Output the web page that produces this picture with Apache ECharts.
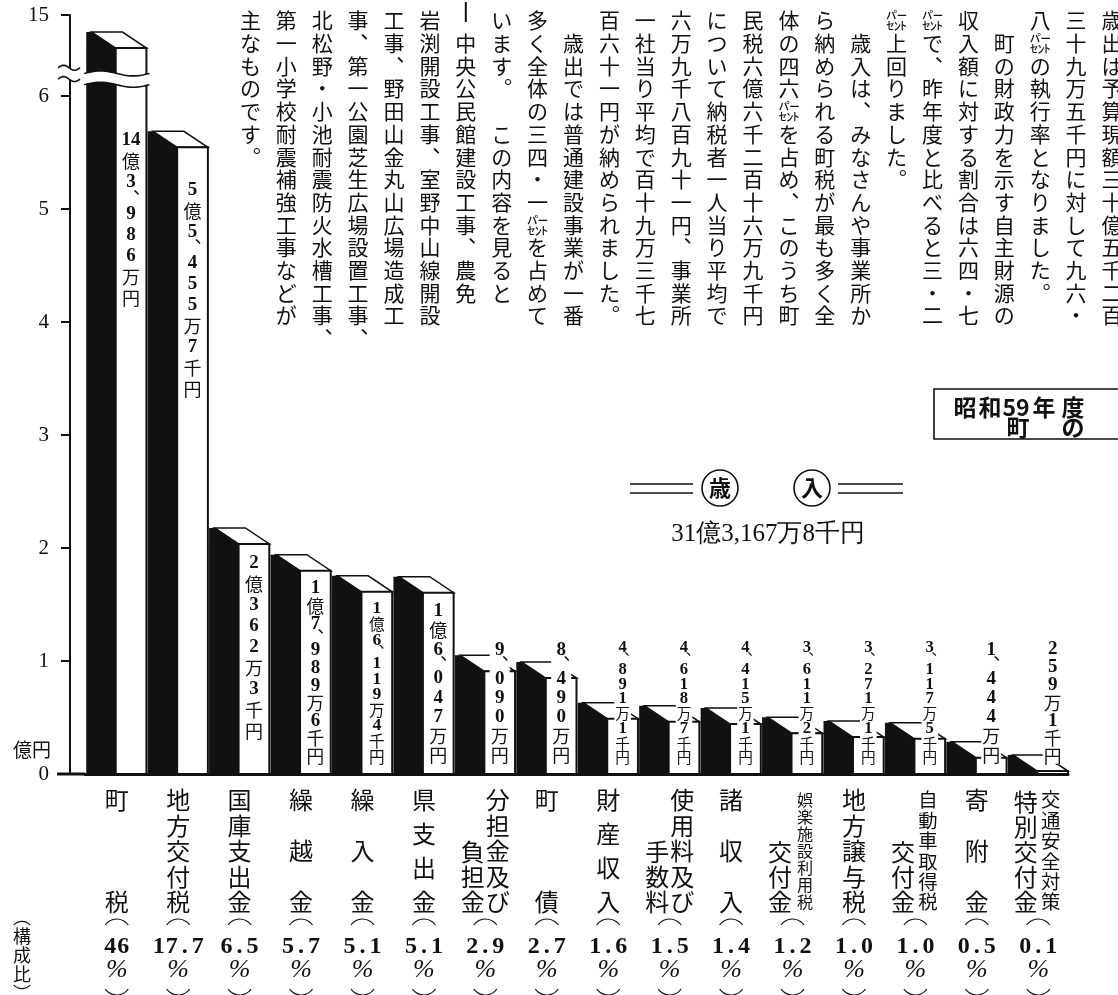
<!DOCTYPE html>
<html>
<head>
<meta charset="utf-8">
<script src="https://cdn.jsdelivr.net/npm/echarts@6.0.0/dist/echarts.min.js"></script>
<style>
html,body{margin:0;padding:0;background:#fff}
#main{width:1118px;height:995px}
</style>
</head>
<body>
<div id="main"></div>
<script>
// 昭和59年度 歳入 (単位: 億円)
var categories = ['町税','地方交付税','国庫支出金','繰越金','繰入金','県支出金','分担金及び負担金','町債','財産収入','使用料及び手数料','諸収入','娯楽施設利用税交付金','地方譲与税','自動車取得税交付金','寄附金','交通安全対策特別交付金'];
var amounts = [14.3986, 5.54557, 2.03623, 1.79896, 1.61194, 1.6047, 0.909, 0.849, 0.48911, 0.46187, 0.44151, 0.36112, 0.32711, 0.31175, 0.1444, 0.02591];
var amountLabels = ['14億3、986万円','5億5、455万7千円','2億362万3千円','1億7、989万6千円','1億6、119万4千円','1億6、047万円','9、090万円','8、490万円','4、891万1千円','4、618万7千円','4、415万1千円','3、611万2千円','3、271万1千円','3、117万5千円','1、444万円','259万1千円'];
var shares = ['46','17.7','6.5','5.7','5.1','5.1','2.9','2.7','1.6','1.5','1.4','1.2','1.0','1.0','0.5','0.1'];
// 縦書きラベルの列 (右の列から)
var labelColumns = [['町税'],['地方交付税'],['国庫支出金'],['繰越金'],['繰入金'],['県支出金'],['分担金及び','負担金'],['町債'],['財産収入'],['使用料及び','手数料'],['諸収入'],['娯楽施設利用税','交付金'],['地方譲与税'],['自動車取得税','交付金'],['寄附金'],['交通安全対策','特別交付金']];
var yTicks = [0, 1, 2, 3, 4, 5, 6, 15];
var totalText = '31億3,167万8千円';

var paragraph = [
  '歳出は予算現額三十億五千二百',
  '三十九万五千円に対して九六・',
  '八㌫の執行率となりました。',
  '　町の財政力を示す自主財源の',
  '収入額に対する割合は六四・七',
  '㌫で、昨年度と比べると三・二',
  '㌫上回りました。',
  '　歳入は、みなさんや事業所か',
  'ら納められる町税が最も多く全',
  '体の四六㌫を占め、このうち町',
  '民税六億六千二百十六万九千円',
  'について納税者一人当り平均で',
  '六万九千八百九十一円、事業所',
  '一社当り平均で百十九万三千七',
  '百六十一円が納められました。',
  '　歳出では普通建設事業が一番',
  '多く全体の三四・一㌫を占めて',
  'います。　この内容を見ると',
  '　中央公民館建設工事、農免',
  '岩渕開設工事、室野中山線開設',
  '工事、野田山金丸山広場造成工',
  '事、第一公園芝生広場設置工事、',
  '北松野・小池耐震防火水槽工事、',
  '第一小学校耐震補強工事などが',
  '主なものです。'
];

var INK = '#111';
var SERIF = '"Liberation Serif","DejaVu Serif",serif';
var JP = '"Noto Sans CJK JP",sans-serif';

// 縦軸の省略 (6 から 15 の間を詰める)
var BREAK_AT = 6.2, AXIS_TOP = 6.717, SQUEEZE = 0.487;
function toAxis(v) { return v <= BREAK_AT ? v : AXIS_TOP - (15 - v) * SQUEEZE; }
var tickValues = yTicks.map(toAxis);

function vert(s) {
  return s.replace(/、/g, '︑').replace(/。/g, '︒');
}

function wave(x1, x2, yc, amp) {
  var pts = [];
  for (var k = 0; k <= 24; k++) {
    var t = k / 24;
    pts.push([x1 + (x2 - x1) * t, yc - amp * Math.sin(Math.PI * 2 * t)]);
  }
  return pts;
}

function breakMark(kids, x1, x2, yA, yB) {
  var up = wave(x1, x2, yA, 2.5), dn = wave(x1, x2, yB, 2.5);
  kids.push({type: 'polygon', shape: {points: up.concat(dn.slice().reverse())}, style: {fill: '#fff'}});
  kids.push({type: 'polyline', shape: {points: up}, style: {stroke: INK, lineWidth: 1.6, fill: null}});
  kids.push({type: 'polyline', shape: {points: dn}, style: {stroke: INK, lineWidth: 1.6, fill: null}});
}

// 等幅のセルに並べる (数字と小数点)
function cells(s, key) {
  return s.split('').map(function (c) { return '{' + key + '|' + c + '}'; }).join('');
}

// 縦書きの丸括弧 (上 ︵ / 下 ︶)
function paren(x, y, up) {
  var r = 14, a = Math.acos(11.5 / r);
  return {
    type: 'arc',
    shape: up ? {cx: x, cy: y + r - 3, r: r, startAngle: Math.PI + a, endAngle: 2 * Math.PI - a}
              : {cx: x, cy: y - r + 3, r: r, startAngle: a, endAngle: Math.PI - a},
    style: {stroke: INK, lineWidth: 1.2, fill: null}
  };
}

function renderBar(params, api) {
  var i = api.value(0), a = api.value(1);
  var base = api.coord([i, 0]), head = api.coord([i, a]);
  var band = api.size([1, 0])[0];
  var cx = base[0], y0 = base[1], ty = head[1];
  var fw = band * 0.5, sw = band * 0.48, dx = band * 0.39, dy = 16;
  var kids = [];

  // 影の側面・上面・正面
  kids.push({type: 'polygon', shape: {points: [[cx - sw, y0], [cx - sw, ty - dy], [cx - dx, ty - dy], [cx, ty], [cx, y0]]}, style: {fill: INK}});
  kids.push({type: 'polygon', shape: {points: [[cx - dx, ty - dy], [cx - dx + fw, ty - dy], [cx + fw, ty], [cx, ty]]}, style: {fill: '#fff', stroke: INK, lineWidth: 1.5}});
  kids.push({type: 'rect', shape: {x: cx, y: ty, width: fw, height: y0 - ty}, style: {fill: '#fff', stroke: INK, lineWidth: 2}});

  if (i === 0) {
    var gl = cx - band / 2;
    kids.push({type: 'line', shape: {x1: gl - 28, y1: y0, x2: gl, y2: y0}, style: {stroke: INK, lineWidth: 3}});
    var ax = gl - 15;
    breakMark(kids, ax - 12, ax + 10, api.coord([i, 6.25])[1], api.coord([i, 6.15])[1]);
  }
  if (a > BREAK_AT) {
    breakMark(kids, cx - sw - 2, cx + fw + 3, api.coord([i, 6.2])[1], api.coord([i, 6.1])[1]);
  }

  // 金額 (縦書き)
  var toks = amountLabels[i].match(/^\d+(?=億)|./g);
  var start;
  if (a > 3) {
    start = ty + 32;
    if (a > BREAK_AT) start = Math.max(start, api.coord([i, 6.1])[1] + 45);
  } else {
    start = Math.min(ty + 9, api.coord([i, 1.18])[1]);
  }
  var units = 0;
  toks.forEach(function (t) { units += t === '、' ? 0.5 : 1; });
  var lh = Math.min(21, (y0 - 9 - start) / units);
  var fd = Math.min(19, lh + 2), fk = Math.min(18, lh);
  var txt = toks.map(function (t) {
    if (t === '、') return '{p|︑}';
    return /\d/.test(t) ? '{d|' + t + '}' : '{k|' + t + '}';
  }).join('\n');
  kids.push({
    type: 'text', x: cx + fw / 2, y: start,
    style: {
      text: txt, align: 'center', verticalAlign: 'top',
      backgroundColor: '#fff', padding: [0, 1],
      rich: {
        d: {fontFamily: SERIF, fontWeight: 'bold', fontSize: fd, lineHeight: lh, fill: INK, align: 'center'},
        k: {fontFamily: JP, fontSize: fk, lineHeight: lh, fill: INK, align: 'center'},
        p: {fontFamily: JP, fontSize: fk, lineHeight: lh * 0.5, fill: INK, align: 'center'}
      }
    }
  });

  // 項目名 (縦書き)
  var cols = labelColumns[i];
  var lx = cx + 1, colW = 25;
  var LT = y0 + 26, LB = y0 + 128;
  cols.forEach(function (col, j) {
    var chars = col.split('');
    var n = chars.length;
    var x = lx + (cols.length - 1) * colW / 2 - j * colW;
    var pitch, fsz, ys;
    if (j === 0) {
      pitch = (LB - LT) / (n - 1);
      fsz = Math.min(24, pitch * 0.95);
      ys = chars.map(function (c, k) { return LT + k * pitch; });
    } else {
      pitch = 25; fsz = 24;
      ys = chars.map(function (c, k) { return LB - (n - 1 - k) * pitch; });
    }
    chars.forEach(function (c, k) {
      kids.push({type: 'text', x: x, y: ys[k], style: {text: c, font: fsz + 'px ' + JP, fill: INK, align: 'center', verticalAlign: 'middle'}});
    });
  });

  // 構成比
  kids.push(paren(lx, y0 + 148, true));
  kids.push({
    type: 'text', x: lx, y: y0 + 173,
    style: {
      text: cells(shares[i], 'n'), align: 'center', verticalAlign: 'middle',
      rich: {n: {fontFamily: SERIF, fontWeight: 'bold', fontSize: 24, width: 13, align: 'center', fill: INK}}
    }
  });
  kids.push({type: 'text', x: lx, y: y0 + 196, style: {text: '%', font: 'italic 26px ' + SERIF, fill: INK, align: 'center', verticalAlign: 'middle'}});
  kids.push(paren(lx, y0 + 218, false));

  return {type: 'group', children: kids};
}

var graphics = [];
// 本文 (縦書き、右の列から)
paragraph.forEach(function (line, k) {
  graphics.push({
    type: 'text', x: 1112 - 35.9 * k, y: 9,
    style: {text: vert(line).split('').join('\n'), font: '21px ' + JP, lineHeight: 22.7, fill: INK, align: 'center', verticalAlign: 'top'}
  });
});
// 「――中央公民館」の罫
graphics.push({type: 'line', shape: {x1: 1112 - 35.9 * 18, y1: 2, x2: 1112 - 35.9 * 18, y2: 22}, style: {stroke: INK, lineWidth: 2}});
// 見出し枠 (右端で切れている)
graphics.push({type: 'rect', shape: {x: 934, y: 389, width: 220, height: 50}, style: {fill: null, stroke: INK, lineWidth: 1.6}});
[['昭', 965, 407], ['和', 990, 407], ['59', 1016, 407], ['年', 1044, 407], ['度', 1073, 407], ['町', 1018, 427], ['の', 1073, 427]].forEach(function (c) {
  graphics.push({type: 'text', x: c[1], y: c[2], style: {text: c[0], font: 'bold 23px ' + JP, fill: INK, align: 'center', verticalAlign: 'middle'}});
});
// 歳入 見出し
[[630, 693], [838, 903]].forEach(function (p) {
  graphics.push({type: 'line', shape: {x1: p[0], y1: 484, x2: p[1], y2: 484}, style: {stroke: INK, lineWidth: 1.6}});
  graphics.push({type: 'line', shape: {x1: p[0], y1: 493, x2: p[1], y2: 493}, style: {stroke: INK, lineWidth: 1.6}});
});
[[720, '歳'], [812, '入']].forEach(function (c) {
  graphics.push({type: 'circle', shape: {cx: c[0], cy: 488, r: 18}, style: {fill: '#fff', stroke: INK, lineWidth: 1.6}});
  graphics.push({type: 'text', x: c[0], y: 488, style: {text: c[1], font: 'bold 22px ' + JP, fill: INK, align: 'center', verticalAlign: 'middle'}});
});
graphics.push({type: 'text', x: 768, y: 534, style: {text: totalText, font: '25px ' + SERIF, fill: INK, align: 'center', verticalAlign: 'middle'}});
// 単位と構成比見出し
graphics.push({type: 'text', x: 32, y: 750, style: {text: '億円', font: '19px ' + JP, fill: INK, align: 'center', verticalAlign: 'middle'}});
graphics.push({type: 'text', x: 22, y: 908, style: {text: '︵\n構\n成\n比\n︶', font: '18px ' + JP, lineHeight: 19, fill: INK, align: 'center', verticalAlign: 'top'}});

var chart = echarts.init(document.getElementById('main'), null, {renderer: 'canvas'});
var option = {
  animation: false,
  backgroundColor: '#fff',
  grid: {left: 85, right: 50, top: 15, bottom: 221},
  xAxis: {
    type: 'category', data: categories,
    axisLine: {lineStyle: {color: INK, width: 3}},
    axisTick: {show: false}, axisLabel: {show: false}
  },
  yAxis: {
    type: 'value', min: 0, max: toAxis(15), offset: 15,
    axisLine: {show: true, lineStyle: {color: INK, width: 2}},
    axisTick: {show: true, length: 9, lineStyle: {color: INK, width: 2}, customValues: tickValues},
    axisLabel: {
      customValues: tickValues, margin: 21, color: INK, fontFamily: SERIF, fontSize: 21,
      formatter: function (v) { return v > 6.5 ? '15' : String(Math.round(v)); }
    },
    splitLine: {show: false}
  },
  graphic: graphics,
  series: [{
    type: 'custom', z: 5, clip: false,
    renderItem: renderBar,
    data: amounts.map(function (v, i) { return [i, toAxis(v)]; })
  }]
};
chart.setOption(option);
</script>
</body>
</html>
